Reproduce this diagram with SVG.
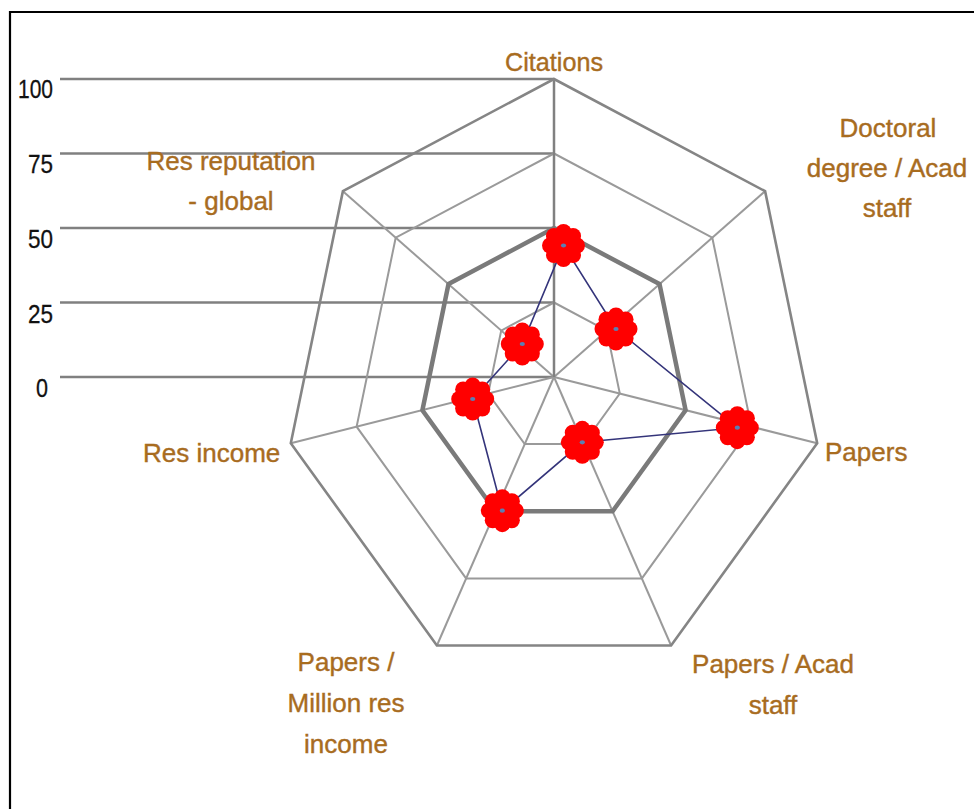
<svg xmlns="http://www.w3.org/2000/svg" xmlns:xlink="http://www.w3.org/1999/xlink" width="974" height="809" viewBox="0 0 974 809">
  <style>
    .lbl { font-family: "Liberation Sans", Arial, sans-serif; font-size: 26px; fill: #a86c1f; text-anchor: middle; stroke: #a86c1f; stroke-width: 0.4px; }
    .tick { font-family: "Liberation Sans", Arial, sans-serif; font-size: 26px; fill: #111; text-anchor: end; stroke: #111; stroke-width: 0.3px; }
    .vline { stroke: #808080; stroke-width: 2.5; fill: none; }
    .outer { stroke: #858585; stroke-width: 2.6; fill: none; stroke-linejoin: miter; }
    .ring { stroke: #9a9a9a; stroke-width: 2; fill: none; }
    .spoke { stroke: #9a9a9a; stroke-width: 2; fill: none; }
    .avg { stroke: #7a7a7a; stroke-width: 4.5; fill: none; stroke-linejoin: miter; }
    .data { stroke: #34347a; stroke-width: 1.6; fill: none; }
  </style>
  <defs>
    <g id="flower">
      <circle cx="0" cy="-13.5" r="8" fill="#ff0000"/>
      <circle cx="9.55" cy="-9.55" r="8" fill="#ff0000"/>
      <circle cx="13.5" cy="0" r="8" fill="#ff0000"/>
      <circle cx="9.55" cy="9.55" r="8" fill="#ff0000"/>
      <circle cx="0" cy="13.5" r="8" fill="#ff0000"/>
      <circle cx="-9.55" cy="9.55" r="8" fill="#ff0000"/>
      <circle cx="-13.5" cy="0" r="8" fill="#ff0000"/>
      <circle cx="-9.55" cy="-9.55" r="8" fill="#ff0000"/>
      <circle cx="0" cy="0" r="13" fill="#ff0000"/>
      <ellipse cx="0" cy="0" rx="2.6" ry="2.1" fill="#5b7fb5"/>
    </g>
  </defs>
  <rect width="974" height="809" fill="#ffffff"/>
  <path d="M10,820 L10,12 L990,12" fill="none" stroke="#000" stroke-width="2.2"/>

  <g id="value-axis">
    <line class="vline" x1="60" y1="79" x2="554" y2="79"/>
    <line class="vline" x1="60" y1="153.5" x2="554" y2="153.5"/>
    <line class="vline" x1="60" y1="228" x2="554" y2="228"/>
    <line class="vline" x1="60" y1="302.5" x2="554" y2="302.5"/>
    <line class="vline" x1="60" y1="377" x2="554" y2="377"/>
    <text class="tick" x="53" y="98" textLength="35" lengthAdjust="spacingAndGlyphs">100</text>
    <text class="tick" x="53" y="173" textLength="25" lengthAdjust="spacingAndGlyphs">75</text>
    <text class="tick" x="53" y="248" textLength="25" lengthAdjust="spacingAndGlyphs">50</text>
    <text class="tick" x="53" y="323" textLength="25" lengthAdjust="spacingAndGlyphs">25</text>
    <text class="tick" x="48" y="397" textLength="12" lengthAdjust="spacingAndGlyphs">0</text>
  </g>

  <g id="grid">
    <polygon class="ring" points="554,302.5 606.8,330.6 619.8,393.6 583.3,444.1 524.7,444.1 488.2,393.6 501.2,330.6"/>
    <polygon class="ring" points="554,153.5 712.3,237.7 751.4,426.7 641.9,578.4 466.1,578.4 356.6,426.7 395.7,237.7"/>
    <line class="spoke" x1="554" y1="377" x2="765.1" y2="191.2"/>
    <line class="spoke" x1="554" y1="377" x2="817.2" y2="443.3"/>
    <line class="spoke" x1="554" y1="377" x2="671.1" y2="645.5"/>
    <line class="spoke" x1="554" y1="377" x2="436.9" y2="645.5"/>
    <line class="spoke" x1="554" y1="377" x2="290.8" y2="443.3"/>
    <line class="spoke" x1="554" y1="377" x2="342.9" y2="191.2"/>
    <line class="vline" x1="554" y1="79" x2="554" y2="377"/>
    <polygon class="outer" points="554,79 765.1,191.2 817.2,443.3 671.1,645.5 436.9,645.5 290.8,443.3 342.9,191.2"/>
  </g>

  <g id="series-50">
    <polygon class="avg" points="554,228 659.5,284.1 685.6,410.2 612.6,511.2 495.4,511.2 422.4,410.2 448.5,284.1"/>
  </g>

  <g id="connectors">
    <polygon class="data" points="563.5,245.5 616,329 737.3,427.7 582.3,442.3 502.3,510.7 472.7,399 522.3,344"/>
  </g>

  <g id="point-citations"><use xlink:href="#flower" x="563.5" y="245.5"/></g>
  <g id="point-doctoral"><use xlink:href="#flower" x="616" y="329"/></g>
  <g id="point-papers"><use xlink:href="#flower" x="737.3" y="427.7"/></g>
  <g id="point-papers-acad"><use xlink:href="#flower" x="582.3" y="442.3"/></g>
  <g id="point-papers-million"><use xlink:href="#flower" x="502.3" y="510.7"/></g>
  <g id="point-res-income"><use xlink:href="#flower" x="472.7" y="399"/></g>
  <g id="point-res-reputation"><use xlink:href="#flower" x="522.3" y="344"/></g>

  <g id="label-citations"><text class="lbl" x="554" y="71" textLength="98" lengthAdjust="spacingAndGlyphs">Citations</text></g>
  <g id="label-doctoral">
    <text class="lbl" x="888" y="137">Doctoral</text>
    <text class="lbl" x="887" y="177">degree / Acad</text>
    <text class="lbl" x="887" y="217">staff</text>
  </g>
  <g id="label-papers"><text class="lbl" x="825" y="461" style="text-anchor:start">Papers</text></g>
  <g id="label-papers-acad">
    <text class="lbl" x="773" y="673">Papers / Acad</text>
    <text class="lbl" x="773" y="714">staff</text>
  </g>
  <g id="label-papers-million">
    <text class="lbl" x="346" y="671">Papers /</text>
    <text class="lbl" x="346" y="712">Million res</text>
    <text class="lbl" x="346" y="753">income</text>
  </g>
  <g id="label-res-income"><text class="lbl" x="143" y="462" style="text-anchor:start">Res income</text></g>
  <g id="label-res-reputation">
    <text class="lbl" x="231" y="170">Res reputation</text>
    <text class="lbl" x="231" y="210">- global</text>
  </g>
</svg>
